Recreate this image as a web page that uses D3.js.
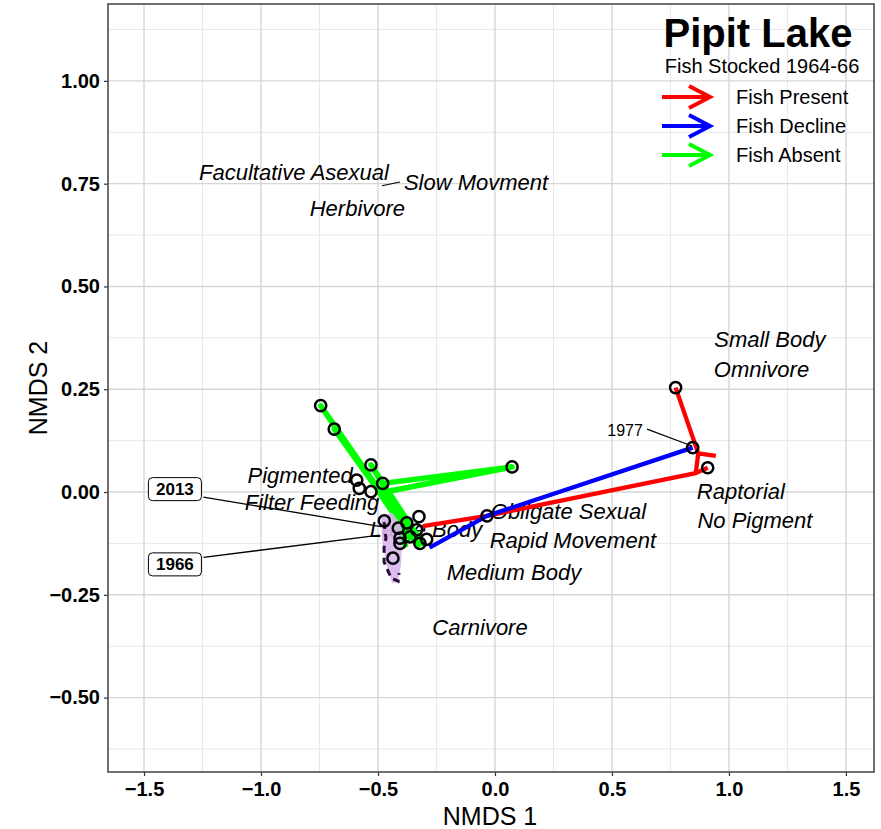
<!DOCTYPE html>
<html><head><meta charset="utf-8">
<script src="https://cdn.jsdelivr.net/npm/d3@7"></script>
<style>body{margin:0;background:#fff}svg{display:block}</style>
</head><body>
<svg id="c" width="881" height="829"></svg>
<script>
// ---------- data ----------
const xTicks = [-1.5, -1.0, -0.5, 0.0, 0.5, 1.0, 1.5];
const yTicks = [-0.5, -0.25, 0.0, 0.25, 0.5, 0.75, 1.0];
const xMinor = [-1.25, -0.75, -0.25, 0.25, 0.75, 1.25];
const yMinor = [-0.625, -0.375, -0.125, 0.125, 0.375, 0.625, 0.875, 1.125];

// sample scores (NMDS1, NMDS2)
const siteX = [-0.745,-0.687,-0.530,-0.591,-0.580,-0.530,-0.480,-0.473,-0.325,-0.377,-0.413,-0.335,-0.406,-0.363,-0.321,-0.292,-0.406,-0.436,0.073,-0.034,0.845,0.772,0.909];
const siteY = [0.210,0.153,0.066,0.029,0.009,0.001,0.021,-0.070,-0.060,-0.075,-0.088,-0.092,-0.112,-0.109,-0.125,-0.115,-0.125,-0.161,0.061,-0.058,0.108,0.254,0.059];

// trajectories (fish status)
const presentPath = [[-0.308,-0.083],[-0.034,-0.058],[0.858,0.046],[0.909,0.059]];
const presentPath2 = [[0.772,0.254],[0.869,0.094]];
const presentHead = [[0.944,0.088],[0.869,0.094],[0.858,0.046]];
const declinePath = [[0.845,0.108],[-0.034,-0.058],[-0.280,-0.135]];
const absentPath = [[-0.36,-0.115],[-0.745,0.210],[-0.33,-0.130],[-0.687,0.153],[-0.35,-0.105],[-0.530,0.066],[-0.31,-0.125],[-0.480,0.021],[0.073,0.061],[-0.470,0.000],[-0.38,-0.135]];

// purple early-core segment
const purpleFill = [[-0.487,-0.062],[-0.440,-0.050],[-0.400,-0.080],[-0.397,-0.125],[-0.402,-0.178],[-0.415,-0.219],[-0.440,-0.222],[-0.462,-0.180],[-0.482,-0.120]];
const purpleDash = [[-0.474,-0.073],[-0.466,-0.112],[-0.474,-0.134],[-0.474,-0.170],[-0.444,-0.209],[-0.414,-0.217],[-0.410,-0.197]];

// trait labels
const traitLabels = ["Facultative Asexual","Slow Movment","Herbivore","Small Body","Omnivore","Raptorial","No Pigment","Obligate Sexual","Rapid Movement","Medium Body","Carnivore","Pigmented","Filter Feeding","Large Body"];
const traitX = [-0.859,-0.081,-0.588,1.175,1.139,1.051,1.111,0.314,0.333,0.081,-0.064,-0.833,-0.782,-0.295];
const traitY = [0.777,0.753,0.689,0.371,0.298,0.001,-0.069,-0.047,-0.118,-0.196,-0.330,0.040,-0.026,-0.090];
const traitSeg = [[-0.483,0.745],[-0.406,0.754]];

// year labels
const yearBoxLabels = ["2013","1966"];
const yearBoxX = [-1.368,-1.368];
const yearBoxY = [0.007,-0.176];
const yearBoxTarget = [[-0.487,-0.084],[-0.493,-0.105]];
const plainYear = {label:"1977", x:0.556, y:0.151, seg:[[0.650,0.153],[0.842,0.112]]};

const legendLabels = ["Fish Present","Fish Decline","Fish Absent"];
const legendColors = ["#ff0000","#0000ff","#00ff00"];

// ---------- chart ----------
const svg = d3.select("#c");
const L=108, R=874, T=4, B=772;
const x = d3.scaleLinear().domain([-1.654,1.620]).range([L,R]);
const y = d3.scaleLinear().domain([-0.681,1.187]).range([B,T]);
const font = "'Liberation Sans', Arial, Helvetica, sans-serif";

svg.append("rect").attr("x",0).attr("y",0).attr("width",881).attr("height",829).attr("fill","#fff");

const grid = svg.append("g");
grid.selectAll(".xm").data(xMinor).join("line").attr("x1",d=>x(d)).attr("x2",d=>x(d)).attr("y1",T).attr("y2",B).attr("stroke","#e8e8e8").attr("stroke-width",1);
grid.selectAll(".ym").data(yMinor).join("line").attr("y1",d=>y(d)).attr("y2",d=>y(d)).attr("x1",L).attr("x2",R).attr("stroke","#e8e8e8").attr("stroke-width",1);
grid.selectAll(".xM").data(xTicks).join("line").attr("x1",d=>x(d)).attr("x2",d=>x(d)).attr("y1",T).attr("y2",B).attr("stroke","#d6d6d6").attr("stroke-width",1.4);
grid.selectAll(".yM").data(yTicks).join("line").attr("y1",d=>y(d)).attr("y2",d=>y(d)).attr("x1",L).attr("x2",R).attr("stroke","#d6d6d6").attr("stroke-width",1.4);

// axes
const xAxis = svg.append("g").attr("transform",`translate(0,${B})`)
  .call(d3.axisBottom(x).tickValues(xTicks).tickFormat(d3.format(".1f")).tickSize(4).tickPadding(4));
const yAxis = svg.append("g").attr("transform",`translate(${L},0)`)
  .call(d3.axisLeft(y).tickValues(yTicks).tickFormat(d3.format(".2f")).tickSize(4).tickPadding(4));
[xAxis,yAxis].forEach(a=>{
  a.select(".domain").remove();
  a.selectAll(".tick line").attr("stroke","#333").attr("stroke-width",1.2);
  a.selectAll(".tick text").attr("font-family",font).attr("font-size",20).attr("font-weight","bold").attr("fill","#000");
});
xAxis.selectAll(".tick text").attr("dy","0.8em");

// trait text labels (under marks)
const tl = svg.append("g");
tl.selectAll("text").data(traitLabels).join("text")
  .attr("x",(d,i)=>x(traitX[i])).attr("y",(d,i)=>y(traitY[i])).attr("dy","0.35em")
  .attr("text-anchor","middle").attr("font-family",font).attr("font-size",22).attr("font-style","italic").attr("fill","#000")
  .text(d=>d);
svg.append("line").attr("x1",x(traitSeg[0][0])).attr("y1",y(traitSeg[0][1])).attr("x2",x(traitSeg[1][0])).attr("y2",y(traitSeg[1][1])).attr("stroke","#000").attr("stroke-width",1.2);

const line = d3.line().x(d=>x(d[0])).y(d=>y(d[1]));
const paths = svg.append("g").attr("fill","none").attr("stroke-linejoin","round");
paths.append("path").attr("d",line(absentPath)).attr("stroke","#00ff00").attr("stroke-width",5.5);
paths.append("path").attr("d",line(presentPath)).attr("stroke","#ff0000").attr("stroke-width",4.3);
paths.append("path").attr("d",line(presentPath2)).attr("stroke","#ff0000").attr("stroke-width",4.3);
paths.append("path").attr("d",line(presentHead)).attr("stroke","#ff0000").attr("stroke-width",4.3);
paths.append("path").attr("d",line(declinePath)).attr("stroke","#0000ff").attr("stroke-width",4.3);

svg.append("path").attr("d",line(purpleFill)+"Z").attr("fill","#d9b5ec").attr("stroke","none").attr("opacity",0.9);
svg.append("path").attr("d",line(purpleDash)).attr("fill","none").attr("stroke","#2b0b3d").attr("stroke-width",3).attr("stroke-dasharray","7,5");

// sample points
svg.append("g").selectAll("circle").data(siteX).join("circle")
  .attr("cx",d=>x(d)).attr("cy",(d,i)=>y(siteY[i])).attr("r",5.6)
  .attr("fill","none").attr("stroke","#000").attr("stroke-width",2.5);

// year boxes
yearBoxLabels.forEach((lab,i)=>{
  const cx=x(yearBoxX[i]), cy=y(yearBoxY[i]);
  const w=53,h=23;
  svg.append("line").attr("x1",cx+w/2+2).attr("y1",cy+(i===0?8:-7)).attr("x2",x(yearBoxTarget[i][0])).attr("y2",y(yearBoxTarget[i][1])).attr("stroke","#000").attr("stroke-width",1.3);
  svg.append("rect").attr("x",cx-w/2).attr("y",cy-h/2).attr("width",w).attr("height",h).attr("rx",4).attr("fill","#fff").attr("stroke","#000").attr("stroke-width",1);
  svg.append("text").attr("x",cx).attr("y",cy).attr("dy","0.36em").attr("text-anchor","middle").attr("font-family",font).attr("font-weight","bold").attr("font-size",17).text(lab);
});
svg.append("text").attr("x",x(plainYear.x)).attr("y",y(plainYear.y)).attr("dy","0.35em").attr("text-anchor","middle").attr("font-family",font).attr("font-size",16).text(plainYear.label);
svg.append("line").attr("x1",x(plainYear.seg[0][0])).attr("y1",y(plainYear.seg[0][1])).attr("x2",x(plainYear.seg[1][0])).attr("y2",y(plainYear.seg[1][1])).attr("stroke","#000").attr("stroke-width",1.2);

// panel border
svg.append("rect").attr("x",L).attr("y",T).attr("width",R-L).attr("height",B-T).attr("fill","none").attr("stroke","#4d4d4d").attr("stroke-width",1.6);

// axis titles
svg.append("text").attr("x",(L+R)/2 - 1).attr("y",825).attr("text-anchor","middle").attr("font-family",font).attr("font-size",25).text("NMDS 1");
svg.append("text").attr("transform",`translate(47,${(T+B)/2})rotate(-90)`).attr("text-anchor","middle").attr("font-family",font).attr("font-size",25).text("NMDS 2");

// title & legend
svg.append("text").attr("x",758).attr("y",47).attr("text-anchor","middle").attr("font-family",font).attr("font-weight","bold").attr("font-size",40).text("Pipit Lake");
svg.append("text").attr("x",762).attr("y",73).attr("text-anchor","middle").attr("font-family",font).attr("font-size",20).text("Fish Stocked 1964-66");
const lg = svg.append("g");
legendLabels.forEach((lab,i)=>{
  const yy = 97 + i*29;
  const c = legendColors[i];
  lg.append("line").attr("x1",662).attr("x2",709).attr("y1",yy).attr("y2",yy).attr("stroke",c).attr("stroke-width",4);
  lg.append("path").attr("d",`M689,${yy-11}L710,${yy}L689,${yy+11}`).attr("fill","none").attr("stroke",c).attr("stroke-width",4);
  lg.append("text").attr("x",736).attr("y",yy).attr("dy","0.36em").attr("font-family",font).attr("font-size",20).text(lab);
});
</script>
</body></html>
